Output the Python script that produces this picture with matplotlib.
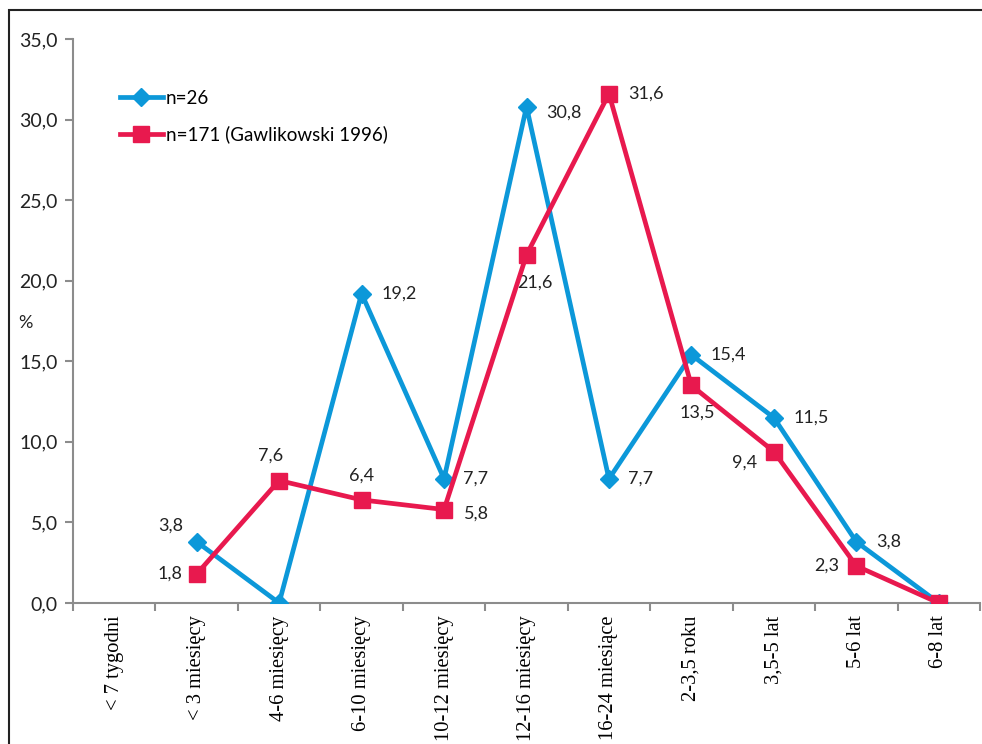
import numpy as np
import matplotlib
matplotlib.use("Agg")
import matplotlib.pyplot as plt
from matplotlib.patches import Rectangle
from matplotlib.ticker import FixedLocator, FuncFormatter

categories = ["< 7 tygodni", "< 3 miesięcy", "4-6 miesięcy", "6-10 miesięcy",
              "10-12 miesięcy", "12-16 miesięcy", "16-24 miesiące", "2-3,5 roku",
              "3,5-5 lat", "5-6 lat", "6-8 lat"]
n26 = [np.nan, 3.8, 0.0, 19.2, 7.7, 30.8, 7.7, 15.4, 11.5, 3.8, 0.0]
n171 = [np.nan, 1.8, 7.6, 6.4, 5.8, 21.6, 31.6, 13.5, 9.4, 2.3, 0.0]
series_names = ["n=26", "n=171 (Gawlikowski 1996)"]

# label offsets in points (dx, dy, ha, va) per point
off26 = [None, (-10, 6, "right", "bottom"), None, (14, 0, "left", "center"),
         (14, 0, "left", "center"), (14, -4, "left", "center"), (14, 0, "left", "center"),
         (14, 0, "left", "center"), (14, 0, "left", "center"), (14, 0, "left", "center"), None]
off171 = [None, (-10, 0, "right", "center"), (-6, 12, "center", "bottom"), (0, 12, "center", "bottom"),
          (14, -3, "left", "center"), (6, -14, "center", "top"), (14, 0, "left", "center"),
          (4, -14, "center", "top"), (-12, -8, "right", "center"), (-12, 0, "right", "center"), None]

BLUE = "#0C98D9"
RED = "#E8194E"
GREY = "#8C8C8C"
sans = ["Lato", "DejaVu Sans"]

fig = plt.figure(figsize=(9.82, 7.44), dpi=100)
ax = fig.add_axes([73 / 982, 1 - 603 / 744, (980 - 73) / 982, (603 - 39) / 744])

x = np.arange(len(categories))
ax.plot(x, n26, color=BLUE, lw=3.4, marker="D", ms=9, label=series_names[0], zorder=3)
ax.plot(x, n171, color=RED, lw=3.4, marker="s", ms=11, label=series_names[1], zorder=4)

def fmt(v):
    return f"{v:.1f}".replace(".", ",")

for vals, offs in ((n26, off26), (n171, off171)):
    for xi, v, o in zip(x, vals, offs):
        if o is None or np.isnan(v):
            continue
        dx, dy, ha, va = o
        ax.annotate(fmt(v), (xi, v), xytext=(dx, dy), textcoords="offset points",
                    ha=ha, va=va, fontsize=13, color="#222222", family=sans)

ax.set_xlim(-0.5, len(categories) - 0.5)
ax.set_ylim(0, 35)
ax.set_yticks(np.arange(0, 35.1, 5))
ax.yaxis.set_major_formatter(FuncFormatter(lambda v, p: fmt(v)))
ax.set_xticks(x)
ax.set_xticklabels(categories, rotation=90, family=["Liberation Serif"], fontsize=14.8)
ax.xaxis.set_minor_locator(FixedLocator(np.arange(-0.5, len(categories), 1.0)))
ax.tick_params(axis="x", which="major", length=0, pad=9)
ax.tick_params(axis="x", which="minor", length=6, color=GREY, width=1.5)
ax.tick_params(axis="y", length=6, color=GREY, width=1.5, pad=5)
for lbl in ax.get_yticklabels():
    lbl.set_family(sans)
    lbl.set_fontsize(14)
    lbl.set_color("#222222")
for s in ("top", "right"):
    ax.spines[s].set_visible(False)
for s in ("left", "bottom"):
    ax.spines[s].set_color(GREY)
    ax.spines[s].set_linewidth(1.5)

leg = ax.legend(loc="upper left", bbox_to_anchor=(0.033, 0.94), frameon=False,
                handlelength=2.3, handletextpad=0.15, labelspacing=1.0,
                prop={"family": sans, "size": 13.5})

fig.text(18 / 982, 1 - 323 / 744, "%", fontsize=13, family=sans, ha="left", va="center",
         color="#222222")

fig.patches.append(Rectangle((9 / 982, -0.05), 1.2, 1 - 10 / 744 + 0.05, transform=fig.transFigure,
                             fill=False, edgecolor="#222222", lw=1.5))

fig.savefig("out.png", dpi=100)
